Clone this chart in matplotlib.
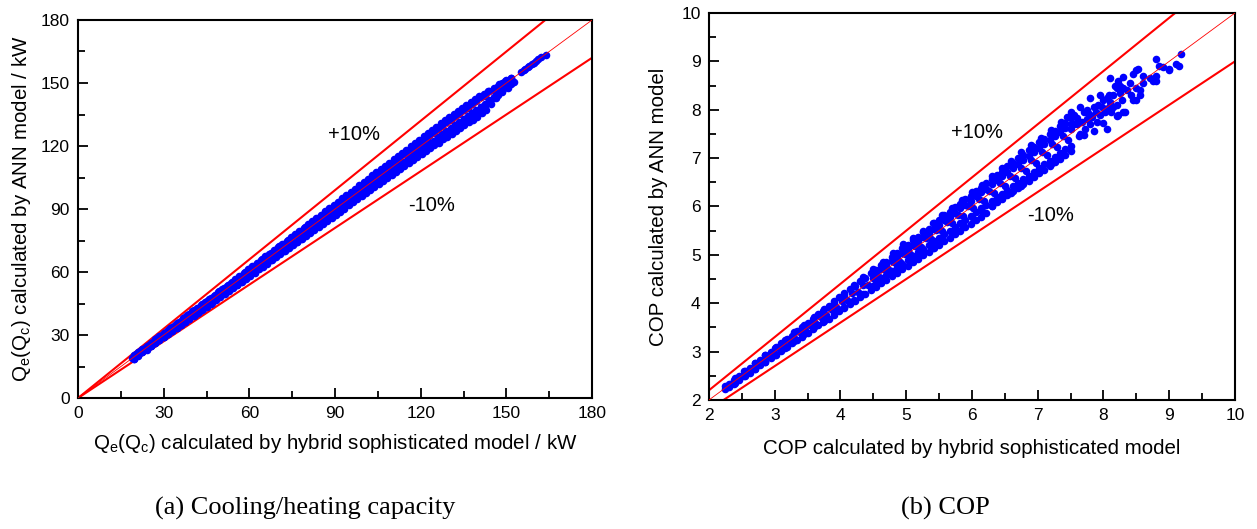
import matplotlib
matplotlib.use("Agg")
import matplotlib.pyplot as plt
from matplotlib.ticker import MultipleLocator
import numpy as np

# ================= data: panel (a) capacity, kW =================
# common x grid of the dense band (hybrid model, kW)
xa_grid = [19.5,21.0,22.5,24.0,25.5,27.0,28.5,30.0,31.5,33.0,34.5,36.0,37.5,39.0,40.5,42.0,43.5,45.0,
           46.5,48.0,49.5,51.0,52.5,54.0,55.5,57.0,58.5,60.0,61.5,63.0,64.5,66.0,67.5,69.0,70.5,72.0,
           73.5,75.0,76.5,78.0,79.5,81.0,82.5,84.0,85.5,87.0,88.5,90.0,91.5,93.0,94.5,96.0,97.5,99.0,
           100.5,102.0,103.5,105.0,106.5,108.0,109.5,111.0,112.5,114.0,115.5,117.0,118.5,120.0,121.5,
           123.0,124.5,126.0,127.5,129.0,130.5,132.0,133.5,135.0,136.5,138.0,139.5,141.0,142.5,144.0,
           145.5,147.0,148.5,150.0,151.5]
# ANN values: middle, upper and lower parts of the band
ya_mid = [19.6,20.8,22.7,23.8,25.7,26.8,28.8,29.7,31.8,32.7,
          34.9,35.6,37.9,38.6,40.9,41.5,44.0,44.5,47.0,47.5,
          50.1,50.4,53.1,53.4,56.2,56.4,59.2,59.3,62.2,62.3,
          65.3,65.2,68.3,68.1,71.4,71.1,74.4,74.0,77.5,77.0,
          80.5,79.9,83.6,82.9,86.6,85.8,89.7,88.8,92.7,91.8,
          95.7,94.8,98.8,97.6,101.9,100.7,104.9,103.6,108.0,106.6,
          111.0,109.6,114.1,112.4,117.2,115.3,120.2,118.2,123.3,121.0,
          126.4,124.0,129.4,127.0,132.4,130.0,135.3,133.0,138.3,135.9,
          141.3,138.8,144.0,141.5,146.6,144.6,148.7,148.0,150.8]
ya_upper = [20.3,21.9,23.2,24.9,26.3,27.9,29.3,31.0,32.4,33.9,
            35.5,36.9,38.5,39.9,41.8,43.1,44.8,46.2,47.8,49.1,
            50.8,52.2,53.9,55.2,56.9,58.2,59.9,61.2,63.0,64.3,
            66.0,67.3,69.0,70.3,72.2,73.5,75.2,76.5,78.3,79.5,
            81.2,82.5,84.2,85.6,87.2,88.6,90.2,91.6,93.2,94.6,
            96.2,97.5,99.2,100.6,102.6,104.0,105.6,107.0,108.6,110.0,
            111.6,113.0,114.6,116.0,117.6,119.0,120.6,122.0,123.6,125.0,
            126.8,128.2,129.9,131.2,132.9,134.2,135.9,137.2,138.9,140.2,
            141.8,143.2,144.6,146.0,147.2,148.6,150.0,151.4,152.6]
ya_lower = [18.8,20.2,21.7,23.1,24.7,26.1,27.6,29.1,30.6,32.0,
            33.5,34.9,36.3,37.7,39.1,40.5,42.1,43.5,45.0,46.5,
            48.0,49.4,51.0,52.4,53.9,55.4,56.9,58.3,59.9,61.2,
            62.8,64.2,65.8,67.1,68.6,70.0,71.6,73.0,74.5,75.9,
            77.6,78.9,80.6,81.9,83.6,84.9,86.6,87.9,89.6,90.9,
            92.6,93.9,95.6,96.9,98.1,99.4,101.0,102.3,104.0,105.3,
            107.0,108.3,110.0,111.3,113.0,114.3,115.8,117.2,118.8,120.0,
            121.2,122.5,124.0,125.4,127.0,128.3,129.9,131.2,132.9,134.3,
            135.9,137.6,139.2,140.8,142.8,144.5,146.2,148.0,149.7]
# extra points filling the wider part of the band (x > 100 kW)
xa_fill = [100.5,102.0,103.5,105.0,106.5,108.0,109.5,111.0,112.5,114.0,115.5,117.0,118.5,120.0,121.5,
           123.0,124.5,126.0,127.5,129.0,130.5,132.0,133.5,135.0,136.5,138.0,139.5,141.0,142.5,144.0,
           145.5,147.0,148.5,150.0,151.5]
ya_fill = [99.4,100.9,102.3,103.8,105.3,106.7,108.2,109.7,111.1,112.6,114.0,115.5,116.9,118.4,119.8,
           121.3,122.6,124.1,125.5,126.9,128.4,129.8,131.3,132.7,134.2,135.6,137.0,138.6,140.2,141.8,
           143.5,145.2,146.9,148.6,150.2]
# individual points along the ragged band edges and the sparse top end
edge_a = [(19.0,19.2),(19.5,18.6),(20.2,20.8),(21.0,20.3),(21.8,22.3),(22.5,21.8),(23.3,23.9),(24.0,23.4),
          (24.8,25.3),(25.5,24.7),(26.3,26.9),(27.0,26.2),(27.8,28.5),(28.5,27.6),(29.3,30.0),(30.0,29.1),
          (30.8,31.6),(31.5,30.5),(32.3,33.2),(33.0,32.0),(33.8,34.8),(34.5,33.4),(35.3,36.3),(36.0,34.9),
          (36.8,37.9),(37.5,36.3),(38.3,39.5),(39.0,37.8),(40.0,41.2),(40.8,39.4),(41.5,42.8),(42.3,40.9),
          (43.0,44.3),(43.8,42.4),(44.5,45.9),(45.3,43.8),(46.0,47.2),(46.8,45.3),(47.5,48.8),(48.3,46.7),
          (49.0,50.3),(49.8,48.2),(50.5,51.9),(51.3,49.6),(52.0,53.3),(52.8,51.0),(53.5,55.0),(54.3,52.4),
          (55.0,56.5),(55.8,54.0),(56.5,58.0),(57.3,55.3),(58.0,59.6),(58.8,56.8),(59.5,61.2),(60.3,58.2),
          (61.0,62.8),(61.8,59.7),(62.5,64.3),(63.3,61.2),(64.0,65.8),(64.8,62.6),(65.5,67.4),(66.3,64.0),
          (67.0,68.8),(67.8,65.6),(68.5,70.4),(69.3,67.0),(70.0,71.9),(70.8,68.5),(71.5,73.4),(72.3,69.9),
          (73.0,75.0),(73.8,71.3),(74.5,76.5),(75.3,72.8),(76.0,78.0),(76.8,74.3),(77.5,79.6),(78.3,75.7),
          (79.0,81.1),(79.8,77.2),(80.5,82.7),(81.3,78.6),(82.0,84.2),(82.8,80.1),(83.5,85.8),(84.3,81.5),
          (85.0,87.3),(85.8,83.0),(86.5,88.9),(87.3,84.4),(88.0,90.4),(88.8,85.9),(89.5,92.0),(90.3,87.3),
          (91.0,93.5),(91.8,88.8),(92.5,95.1),(93.3,90.2),(94.0,96.6),(94.8,91.7),(95.5,98.2),(96.3,93.1),
          (97.0,99.7),(97.8,94.6),(98.5,101.3),(99.3,96.0),(100.0,102.9),(100.8,97.5),(101.5,104.4),(102.3,98.9),
          (103.0,106.1),(103.8,100.4),(104.5,107.6),(105.3,101.8),(106.0,109.1),(106.8,103.2),(107.5,110.6),
          (108.3,104.7),(109.0,112.1),(109.8,106.1),(110.5,113.7),(111.3,107.6),(112.0,115.2),(112.8,109.0),
          (113.5,116.8),(114.3,110.5),(115.0,118.3),(115.8,111.9),(116.5,119.9),(117.3,113.4),(118.0,121.5),
          (118.8,114.8),(119.5,123.0),(120.3,116.1),(121.0,124.6),(121.8,117.6),(122.5,126.2),(123.3,118.9),
          (124.0,127.7),(124.8,120.4),(125.5,129.2),(126.3,121.6),(127.0,130.8),(127.8,123.1),(128.5,132.3),
          (129.3,124.4),(130.0,133.9),(130.8,125.8),(131.5,135.3),(132.3,127.2),(133.0,136.8),(133.8,128.5),
          (134.5,138.2),(135.3,129.9),(136.0,139.6),(136.8,131.2),(137.5,141.1),(138.3,132.6),(139.0,142.5),
          (139.8,134.0),(140.5,143.8),(141.3,135.5),(142.0,145.0),(142.8,137.2),(143.5,146.3),(144.5,140.0),
          (145.5,147.8),(146.5,143.0),(147.5,149.6),(148.5,145.5),(149.5,150.8),(150.5,147.8),(151.5,152.5),
          (152.5,150.5),(155.0,155.2),(156.0,156.1),(156.5,156.8),(157.5,157.6),(158.0,158.3),(159.0,159.1),
          (159.5,159.6),(160.5,160.4),(161.0,161.3),(162.0,162.2),(164.0,163.2)]

# ================= data: panel (b) COP =================
xb_grid = [2.26,2.34,2.42,2.50,2.58,2.66,2.74,2.82,2.90,2.98,3.06,3.14,3.22,3.30,3.38,3.46,3.54,3.62,
           3.70,3.78,3.86,3.94,4.02,4.10,4.18,4.26,4.34,4.42,4.50,4.58,4.66,4.74,4.82,4.90,4.98,5.06,
           5.14,5.22,5.30,5.38,5.46,5.54,5.62,5.70,5.78,5.86,5.94,6.02,6.10,6.18,6.26,6.34,6.42,6.50,
           6.58,6.66,6.74,6.82,6.90,6.98,7.06,7.14,7.22,7.30,7.38,7.46]
yb_mid = [2.27,2.33,2.43,2.49,2.59,2.65,2.75,2.81,2.91,2.97,
          3.07,3.12,3.24,3.28,3.40,3.44,3.56,3.60,3.72,3.76,
          3.89,3.91,4.05,4.07,4.21,4.23,4.37,4.38,4.53,4.54,
          4.70,4.69,4.86,4.86,5.02,5.02,5.19,5.17,5.35,5.33,
          5.51,5.49,5.67,5.65,5.83,5.81,6.00,5.96,6.16,6.12,
          6.32,6.27,6.48,6.43,6.64,6.59,6.80,6.74,6.97,6.90,
          7.13,7.06,7.29,7.22,7.45,7.38]
xb_grid2 = [2.30,2.38,2.46,2.54,2.62,2.70,2.78,2.86,2.94,3.02,3.10,3.18,3.26,3.34,3.42,3.50,3.58,3.66,
            3.74,3.82,3.90,3.98,4.06,4.14,4.22,4.30,4.38,4.46,4.54,4.62,4.70,4.78,4.86,4.94,5.02,5.10,
            5.18,5.26,5.34,5.42,5.50,5.58,5.66,5.74,5.82,5.90,5.98,6.06,6.14,6.22,6.30,6.38,6.46,6.54,
            6.62,6.70,6.78,6.86,6.94,7.02,7.10,7.18,7.26,7.34,7.42,7.50]
yb_upper = [2.33,2.42,2.50,2.59,2.67,2.76,2.83,2.93,3.00,3.09,
            3.17,3.26,3.33,3.43,3.50,3.60,3.67,3.77,3.84,3.94,
            4.01,4.12,4.17,4.29,4.35,4.45,4.52,4.62,4.69,4.79,
            4.86,4.96,5.03,5.14,5.20,5.31,5.37,5.48,5.54,5.65,
            5.71,5.82,5.88,5.99,6.05,6.16,6.22,6.32,6.39,6.49,
            6.56,6.66,6.72,6.83,6.89,7.00,7.06,7.17,7.23,7.33,
            7.40,7.50,7.57,7.66,7.72,7.82]
yb_lower = [2.26,2.34,2.41,2.49,2.56,2.64,2.72,2.79,2.87,2.94,
            3.02,3.09,3.17,3.24,3.31,3.39,3.46,3.54,3.61,3.68,
            3.76,3.83,3.90,3.98,4.05,4.12,4.19,4.27,4.34,4.41,
            4.48,4.56,4.63,4.70,4.77,4.85,4.92,4.99,5.06,5.14,
            5.21,5.28,5.35,5.43,5.50,5.57,5.64,5.72,5.79,5.86,
            6.02,6.09,6.16,6.24,6.31,6.38,6.46,6.53,6.61,6.69,
            6.76,6.84,6.92,6.99,7.07,7.14]
# extra points filling the wider part of the band (COP > 4.5)
xb_fill = [4.54,4.62,4.70,4.78,4.86,4.94,5.02,5.10,5.18,5.26,5.34,5.42,5.50,5.58,5.66,5.74,5.82,5.90,5.98,
           6.06,6.14,6.22,6.30,6.38,6.46,6.54,6.62,6.70,6.78,6.86,6.94,7.02,7.10,7.18,7.26,7.34,7.42,7.50]
yb_fill_hi = [4.63,4.70,4.80,4.87,4.96,5.04,5.12,5.21,5.29,5.37,5.46,5.54,5.62,5.71,5.79,5.87,5.96,6.04,6.12,
              6.21,6.29,6.37,6.46,6.54,6.62,6.71,6.79,6.87,6.96,7.04,7.12,7.21,7.29,7.37,7.46,7.54,7.62,7.71]
yb_fill_lo = [4.44,4.52,4.59,4.67,4.74,4.82,4.90,4.97,5.05,5.12,5.20,5.28,5.35,5.43,5.50,5.58,5.66,5.73,5.81,
              5.88,5.96,6.04,6.11,6.19,6.26,6.34,6.42,6.49,6.57,6.64,6.72,6.80,6.87,6.95,7.02,7.10,7.18,7.25]
edge_b = [(2.25,2.28),(2.4,2.45),(2.55,2.6),(2.7,2.76),(2.85,2.92),(3.0,3.08),(3.15,3.24),(3.3,3.40),
          (3.45,3.55),(3.6,3.72),(3.75,3.88),(3.9,4.05),(4.05,4.22),(4.2,4.38),(4.35,4.54),(4.5,4.70),
          (4.65,4.86),(4.8,5.03),(4.95,5.22),(5.1,5.34),(5.25,5.50),(5.4,5.66),(5.55,5.82),(5.7,5.97),
          (5.85,6.14),(6.0,6.30),(6.15,6.45),(6.3,6.62),(6.45,6.80),(6.6,6.95),(6.75,7.12),(6.9,7.27),
          (7.05,7.42),(7.2,7.58),(7.35,7.75),
          (2.25,2.22),(2.4,2.36),(2.55,2.5),(2.7,2.64),(2.85,2.78),(3.0,2.93),(3.15,3.07),(3.3,3.22),
          (3.45,3.36),(3.6,3.50),(3.75,3.64),(3.9,3.79),(4.05,3.93),(4.2,4.06),(4.35,4.20),(4.5,4.35),
          (4.65,4.48),(4.8,4.62),(4.95,4.77),(5.1,4.90),(5.25,5.05),(5.4,5.15),(5.55,5.35),(5.7,5.48),
          (5.85,5.62),(6.0,5.78),(6.15,5.90),(6.3,6.02),(6.45,6.18),(6.6,6.28),(6.75,6.42),(6.9,6.60),
          (7.05,6.75),(7.2,6.88),(7.35,7.05)]
scatter_b = [(7.45,7.85),(7.5,7.6),(7.55,7.9),(7.6,7.7),(7.62,7.45),(7.7,7.95),(7.72,7.6),(7.75,8.0),
             (7.8,7.7),(7.82,7.85),(7.85,8.05),(7.9,7.75),(7.92,8.1),(7.95,7.9),(8.0,8.2),(8.02,7.95),
             (8.05,8.25),(8.08,8.05),(8.1,8.15),(8.12,7.95),(8.15,8.3),(8.18,8.5),(8.2,8.1),(8.22,8.6),
             (8.25,8.35),(8.28,8.2),(8.3,8.45),(8.32,7.95),(8.35,8.4),(8.4,8.55),(8.42,8.3),(8.45,8.2),
             (8.5,8.45),(8.52,8.85),(8.55,8.4),(8.6,8.55),(8.7,8.65),(8.75,8.6),(8.8,8.7),(8.85,8.9),
             (9.0,8.85),(9.1,8.95),(9.18,9.15),(8.22,7.9),(8.05,7.6),(7.65,7.5),(7.5,7.95),(7.65,8.05),
             (7.8,8.25),(7.95,8.3),(8.1,8.65),(8.2,8.45),(8.3,8.68),(8.5,8.82),(8.45,8.73),(8.8,9.05),
             (8.6,8.7),(8.9,8.88),(7.7,7.48),(7.85,7.55),(8.0,7.72),(8.2,7.88),(8.3,7.95),(8.5,8.2),
             (8.55,8.3),(9.0,8.82),(9.15,8.9),(8.8,8.6),(7.55,7.7),(7.6,7.82),(7.68,7.75),(7.75,7.8),
             (7.78,7.92),(7.88,7.95),(7.98,8.05),(8.08,8.3),(8.15,8.05),(8.25,8.5)]

plt.rcParams['font.family'] = ['Liberation Sans', 'DejaVu Sans']
plt.rcParams['mathtext.fontset'] = 'custom'
plt.rcParams['mathtext.rm'] = 'Liberation Sans'
plt.rcParams['mathtext.it'] = 'Liberation Sans'

fig = plt.figure(figsize=(12.57, 5.29), dpi=100)
axa = fig.add_axes([0.0621, 0.2476, 0.4089, 0.7146])
axb = fig.add_axes([0.5640, 0.2439, 0.4185, 0.7316])

BLUE = '#0000ff'
RED = '#ff0000'
MS = 30
LABEL_FS = 14.8


def style(ax, major, minor, lo, hi):
    ax.set_xlim(lo, hi)
    ax.set_ylim(lo, hi)
    ax.xaxis.set_major_locator(MultipleLocator(major))
    ax.yaxis.set_major_locator(MultipleLocator(major))
    ax.xaxis.set_minor_locator(MultipleLocator(minor))
    ax.yaxis.set_minor_locator(MultipleLocator(minor))
    ax.tick_params(which='both', direction='in', top=False, right=False, width=1.3, labelsize=12.5)
    ax.tick_params(which='major', length=7)
    ax.tick_params(which='minor', length=5)
    ax.tick_params(axis='x', which='major', pad=6)
    ax.tick_params(axis='y', which='major', pad=6)
    for s in ax.spines.values():
        s.set_linewidth(1.5)


def ref_lines(ax, hi):
    xs = np.array([0.0, hi * 1.2])
    ax.plot(xs, xs, color=RED, lw=0.6, zorder=3)
    ax.plot(xs, 1.1 * xs, color=RED, lw=1.5, zorder=1)
    ax.plot(xs, 0.9 * xs, color=RED, lw=1.5, zorder=1)


def dots(ax, x, y):
    ax.scatter(x, y, s=MS, color=BLUE, linewidths=0, zorder=2)


# ---------- panel (a) ----------
ref_lines(axa, 180)
dots(axa, xa_grid, ya_mid)
dots(axa, xa_grid, ya_upper)
dots(axa, xa_grid, ya_lower)
dots(axa, xa_fill, ya_fill)
ex, ey = zip(*edge_a)
dots(axa, ex, ey)
style(axa, 30, 15, 0, 180)
axa.text(96.8, 125.7, '+10%', fontsize=14.5, ha='center', va='center')
axa.text(123.7, 91.9, '-10%', fontsize=14.5, ha='center', va='center')
axa.set_xlabel(r'Q$_\mathregular{e}$(Q$_\mathregular{c}$) calculated by hybrid sophisticated model / kW',
               fontsize=LABEL_FS)
axa.set_ylabel(r'Q$_\mathregular{e}$(Q$_\mathregular{c}$) calculated by ANN model / kW', fontsize=LABEL_FS)
axa.xaxis.set_label_coords(0.5, -0.09)
axa.yaxis.set_label_coords(-0.088, 0.5)

# ---------- panel (b) ----------
ref_lines(axb, 10)
dots(axb, xb_grid, yb_mid)
dots(axb, xb_grid2, yb_upper)
dots(axb, xb_grid2, yb_lower)
dots(axb, xb_fill, yb_fill_hi)
dots(axb, xb_fill, yb_fill_lo)
bx, by = zip(*edge_b)
dots(axb, bx, by)
sx, sy = zip(*scatter_b)
dots(axb, sx, sy)
style(axb, 1, 0.5, 2, 10)
axb.text(6.08, 7.52, '+10%', fontsize=14.5, ha='center', va='center')
axb.text(7.19, 5.82, '-10%', fontsize=14.5, ha='center', va='center')
axb.set_xlabel('COP calculated by hybrid sophisticated model', fontsize=LABEL_FS)
axb.set_ylabel('COP calculated by ANN model', fontsize=LABEL_FS)
axb.xaxis.set_label_coords(0.5, -0.1)
axb.yaxis.set_label_coords(-0.078, 0.5)

fig.text(0.2427, 0.038, '(a) Cooling/heating capacity', fontsize=19, ha='center', va='center',
         family='Liberation Serif')
fig.text(0.7518, 0.038, '(b) COP', fontsize=19, ha='center', va='center', family='Liberation Serif')

fig.savefig('out.png', dpi=100)
